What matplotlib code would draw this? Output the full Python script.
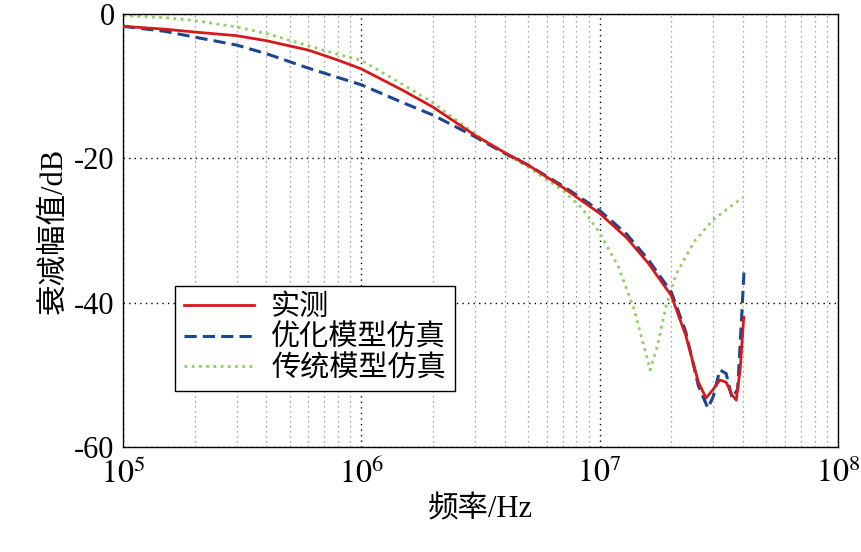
import matplotlib
matplotlib.use("Agg")
import matplotlib.pyplot as plt
from matplotlib import font_manager as fm
from matplotlib.ticker import LogLocator, NullFormatter

names = sorted({f.name for f in fm.fontManager.ttflist})
def pick(cands):
    for c in cands:
        for n in names:
            if n.lower() == c.lower():
                return n
    for c in cands:
        for n in names:
            if c.lower() in n.lower():
                return n
    return "DejaVu Sans"
cjk = pick(["Noto Serif CJK SC", "Noto Sans CJK SC", "Noto Sans CJK JP", "CJK"])
serif = pick(["Liberation Serif", "DejaVu Serif"])
cjk_prop = fm.FontProperties(family=[serif, cjk], size=22)

f_meas = [1e5, 1.5e5, 2e5, 3e5, 4e5, 6e5, 8e5, 1e6, 1.5e6, 2e6, 3e6, 4e6, 5e6, 7e6, 1e7,
          1.3e7, 1.6e7, 2e7, 2.3e7, 2.6e7, 2.8e7, 3.0e7, 3.2e7, 3.4e7, 3.6e7, 3.75e7, 3.9e7, 4.03e7]
v_meas = [-1.7, -2.1, -2.5, -3.0, -3.7, -5.0, -6.4, -7.6, -10.6, -12.9, -16.8, -19.2, -20.9, -24.0, -27.6,
          -31.0, -34.5, -39.0, -44.5, -51.0, -53.2, -52.0, -50.7, -51.0, -52.8, -53.5, -49.0, -42.0]

f_opt = [1e5, 1.5e5, 2e5, 3e5, 4e5, 6e5, 8e5, 1e6, 1.5e6, 2e6, 3e6, 4e6, 5e6, 7e6, 1e7,
         1.3e7, 1.6e7, 2e7, 2.3e7, 2.6e7, 2.85e7, 3.0e7, 3.2e7, 3.4e7, 3.6e7, 3.8e7, 3.95e7, 4.05e7]
v_opt = [-1.7, -2.4, -3.2, -4.3, -5.5, -7.5, -8.8, -9.8, -12.3, -14.0, -17.0, -19.3, -20.9, -23.8, -27.2,
         -30.5, -34.0, -38.5, -44.0, -51.5, -54.6, -53.0, -49.3, -49.8, -53.2, -52.0, -42.0, -35.0]

f_trad = [1e5, 1.5e5, 2e5, 3e5, 4e5, 6e5, 8e5, 1e6, 1.5e6, 2e6, 3e6, 4e6, 5e6, 7e6, 8.5e6, 1e7,
          1.2e7, 1.4e7, 1.55e7, 1.63e7, 1.75e7, 1.9e7, 2.1e7, 2.5e7, 3e7, 3.5e7, 4e7]
v_trad = [-0.2, -0.5, -0.9, -1.8, -2.7, -4.4, -5.6, -6.4, -9.8, -12.3, -16.6, -19.3, -21.2, -24.4, -27.0, -30.3,
          -35.0, -41.0, -46.5, -49.3, -46.0, -40.5, -36.0, -31.5, -28.5, -26.8, -25.4]

labels = ["实测", "优化模型仿真", "传统模型仿真"]
yticks = [-60, -40, -20, 0]

plt.rcParams["mathtext.fontset"] = "stix"
fig = plt.figure(figsize=(8.61, 5.52), dpi=100)
ax = fig.add_axes([0.1429, 0.190, 0.8301, 0.7846])
ax.plot(f_meas, v_meas, color="#d7191c", lw=2.0, label=labels[0], zorder=4)
ax.plot(f_opt, v_opt, color="#1b4690", lw=2.2, ls=(0, (4, 2)), label=labels[1], zorder=3)
ax.plot(f_trad, v_trad, color="#8fcf5f", lw=2.0, ls=(0, (1, 1.6)), label=labels[2], zorder=2)
ax.set_xscale("log")
ax.set_xlim(1e5, 1e8)
ax.set_ylim(-60, 0)
ax.set_yticks(yticks)
ax.set_yticklabels([str(t) for t in yticks], fontfamily=serif, fontsize=22)
ax.set_xticks([1e5, 1e6, 1e7, 1e8])
ax.set_xticklabels([r"$10^{5}$", r"$10^{6}$", r"$10^{7}$", r"$10^{8}$"], fontsize=23)
ax.xaxis.set_minor_locator(LogLocator(base=10, subs=range(2, 10)))
ax.xaxis.set_minor_formatter(NullFormatter())
ax.grid(True, which="major", color="black", ls=(0, (1, 3)), lw=1.0)
ax.grid(True, which="minor", axis="x", color="#888888", ls=(0, (1, 3)), lw=0.9)
ax.tick_params(axis="x", which="major", direction="in", length=0, pad=8)
ax.tick_params(axis="x", which="minor", length=0)
ax.tick_params(axis="y", direction="in", length=0, pad=6)
for s in ax.spines.values():
    s.set_linewidth(1.0)
ax.set_xlabel("频率/Hz", fontproperties=cjk_prop, labelpad=4)
ax.set_ylabel("衰减幅值/dB", fontproperties=cjk_prop, labelpad=4)
leg = ax.legend(loc="lower left", bbox_to_anchor=(0.052, 0.095),
                prop=fm.FontProperties(family=[serif, cjk], size=21),
                frameon=True, fancybox=False, edgecolor="black", framealpha=1,
                handlelength=2.4, labelspacing=0.12, borderpad=0.3, handletextpad=0.6)
leg.get_frame().set_linewidth(1.0)
fig.savefig("out.png", dpi=100)
